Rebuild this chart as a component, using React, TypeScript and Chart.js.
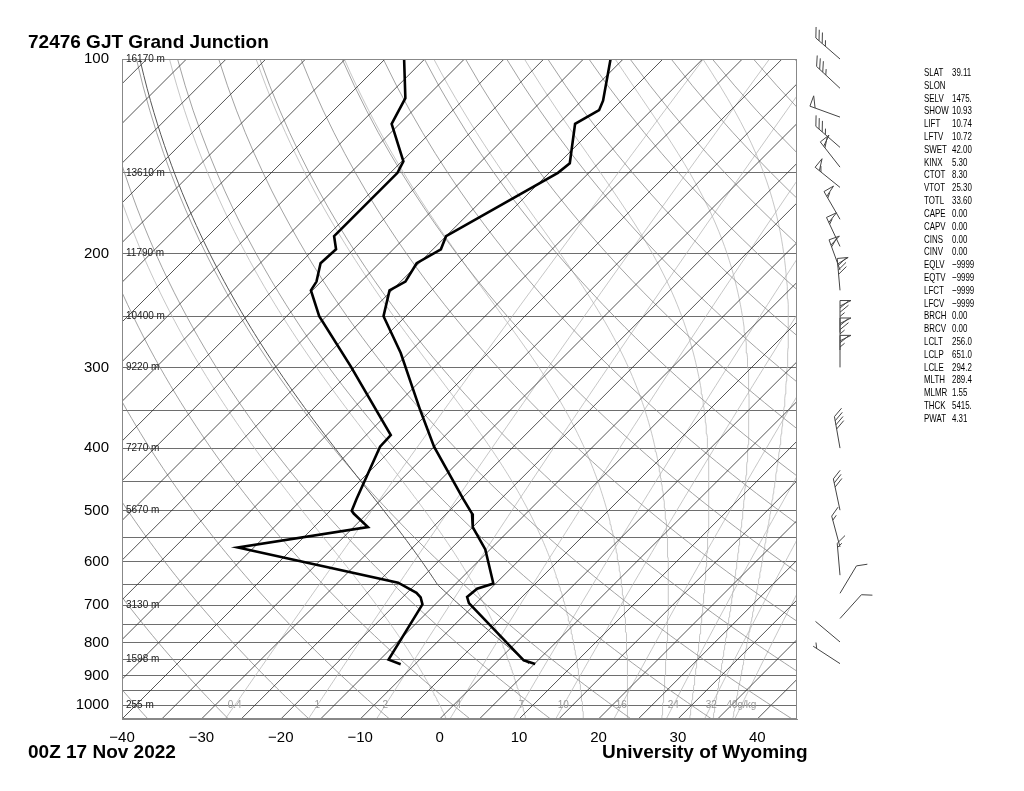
import React, { useEffect, useRef } from "react";
import { Chart, registerables } from "chart.js";

Chart.register(...registerables);

// ---------- diagram frame ----------
const P_BOTTOM = 1050;
const P_TOP = 100;
const T_LEFT = -40;
const T_RIGHT = 45;
const SKEW = 81.4; // degC per decade of pressure -> 45 degree isotherms

// ---------- sounding (pressure hPa, temperature degC) ----------
const tempPres = [100, 116, 120, 126, 145, 150, 188, 197, 207, 221, 228, 250, 285, 349, 398, 479, 505, 530, 574, 648, 660, 680, 695, 852, 863];
const tempC = [-61.6, -57.3, -56.6, -57.9, -53.6, -53.9, -60.0, -59.0, -60.3, -59.4, -60.3, -57.8, -51.0, -41.4, -35.0, -24.8, -21.8, -20.0, -15.6, -10.3, -11.7, -11.9, -10.9, 3.2, 5.1];
const dewPres = [100, 115, 126, 144, 150, 188, 197, 207, 221, 228, 250, 299, 382, 398, 479, 500, 505, 530, 570, 646, 670, 681, 698, 850, 864];
const dewC = [-87.6, -82.5, -81.0, -74.8, -74.1, -74.1, -72.2, -72.4, -70.6, -70.2, -65.9, -55.6, -41.9, -41.8, -38.2, -37.3, -36.7, -33.2, -47.0, -22.4, -18.8, -17.7, -16.6, -13.9, -11.8];

// ---------- winds (pressure hPa, direction deg, speed kt) ----------
const windPres = [100, 111, 123, 137, 147, 158, 177, 195, 212, 228, 265, 282, 300, 400, 499, 569, 629, 671, 734, 798, 862];
const windDir = [311, 313, 290, 311, 322, 309, 330, 335, 340, 355, 0, 0, 0, 350, 348, 345, 355, 31, 42, 310, 303];
const windKt = [35, 35, 50, 35, 60, 55, 55, 55, 60, 80, 75, 75, 65, 40, 30, 15, 15, 10, 10, 2, 5];

// ---------- axes ----------
const isobars = [100, 150, 200, 250, 300, 350, 400, 450, 500, 550, 600, 650, 700, 750, 800, 850, 900, 950, 1000, 1050];
const pressureLabels = [100, 200, 300, 400, 500, 600, 700, 800, 900, 1000];
const tempTicks = [-40, -30, -20, -10, 0, 10, 20, 30, 40];
const heightPres = [100, 150, 200, 250, 300, 400, 500, 700, 850, 1000];
const heightText = ["16170 m", "13610 m", "11790 m", "10400 m", "9220 m", "7270 m", "5670 m", "3130 m", "1598 m", "255 m"];

// ---------- background lines ----------
const ISOTHERM_FIRST = -125;
const ISOTHERM_LAST = 45;
const ISOTHERM_STEP = 5;
const dryThetaC = [-40, -30, -20, -10, 0, 10, 20, 30, 40, 50, 60, 70, 80, 90, 100, 110, 120, 130, 140, 150, 160, 170, 180];
const moistThetaE = [280, 300, 320, 340, 360, 380, 400, 420];
const mixRatios = [0.4, 1, 2, 4, 7, 10, 16, 24, 32, 40];
const mixLabels = ["0.4", "1", "2", "4", "7", "10", "16", "24", "32", "40g/kg"];

// ---------- station indices ----------
const statNames = ["SLAT", "SLON", "SELV", "SHOW", "LIFT", "LFTV", "SWET", "KINX", "CTOT", "VTOT", "TOTL", "CAPE", "CAPV", "CINS", "CINV", "EQLV", "EQTV", "LFCT", "LFCV", "BRCH", "BRCV", "LCLT", "LCLP", "LCLE", "MLTH", "MLMR", "THCK", "PWAT"];
const statValues = ["39.11", "", "1475.", "10.93", "10.74", "10.72", "42.00", "5.30", "8.30", "25.30", "33.60", "0.00", "0.00", "0.00", "0.00", "\u22129999", "\u22129999", "\u22129999", "\u22129999", "0.00", "0.00", "256.0", "651.0", "294.2", "289.4", "1.55", "5415.", "4.31"];
const SURFACE_PRES = 863;
const LCL_PRES = 651.0;
const LCL_TEMP_K = 256.0;

const TITLE = "72476 GJT Grand Junction";
const DATE_TEXT = "00Z 17 Nov 2022";
const SOURCE_TEXT = "University of Wyoming";

// ---------- thermodynamics helpers ----------
const RD = 287.04;
const CP = 1005.7;
const LV = 2.501e6;
const KAPPA = 0.2857;

const skewX = (tC: number, p: number) => tC + SKEW * Math.log10(P_BOTTOM / p);
const satVap = (tC: number) => 6.112 * Math.exp((17.67 * tC) / (tC + 243.5));
const satMix = (tK: number, p: number) => {
  const es = satVap(tK - 273.15);
  return (0.622 * es) / (p - es);
};
const dTdp = (T: number, p: number) => {
  const rs = satMix(T, p);
  return (RD * T + LV * rs) / (CP + (LV * LV * rs * 0.622) / (RD * T * T)) / p;
};
const thetaE = (tK: number, p: number) => tK * Math.pow(1000 / p, KAPPA) * Math.exp((LV * satMix(tK, p)) / (CP * tK));
function tempForThetaE(te: number, p: number) {
  let lo = 200, hi = 330;
  for (let i = 0; i < 60; i++) {
    const mid = (lo + hi) / 2;
    if (thetaE(mid, p) > te) hi = mid;
    else lo = mid;
  }
  return (lo + hi) / 2;
}
function moistPath(tK: number, p0: number, p1: number): { p: number; t: number }[] {
  const out = [{ p: p0, t: tK }];
  let T = tK;
  let p = p0;
  const dir = p1 < p0 ? -1 : 1;
  while (dir * (p1 - p) > 1e-6) {
    const dp = dir * Math.min(5, Math.abs(p1 - p));
    const k1 = dTdp(T, p);
    const k2 = dTdp(T + (k1 * dp) / 2, p + dp / 2);
    T += k2 * dp;
    p += dp;
    out.push({ p, t: T });
  }
  return out;
}
const curvePres: number[] = [];
for (let p = P_BOTTOM; p >= P_TOP; p -= 10) curvePres.push(p);

function lineDs(data: { x: number; y: number }[], color: string, width: number) {
  return {
    data,
    showLine: true,
    borderColor: color,
    borderWidth: width,
    pointRadius: 0,
    pointHoverRadius: 0,
    tension: 0,
    clip: 0,
    fill: false,
  };
}

function buildDatasets() {
  const ds: any[] = [];
  // sounding profiles on top
  ds.push(lineDs(tempPres.map((p, i) => ({ x: skewX(tempC[i], p), y: p })), "#000", 2.6));
  ds.push(lineDs(dewPres.map((p, i) => ({ x: skewX(dewC[i], p), y: p })), "#000", 2.6));
  // parcel path: dry to LCL, then saturated
  const theta = LCL_TEMP_K * Math.pow(1000 / LCL_PRES, KAPPA);
  const parcel: { x: number; y: number }[] = [];
  for (let p = SURFACE_PRES; p > LCL_PRES; p -= 5) parcel.push({ x: skewX(theta * Math.pow(p / 1000, KAPPA) - 273.15, p), y: p });
  moistPath(LCL_TEMP_K, LCL_PRES, P_TOP).forEach((q) => parcel.push({ x: skewX(q.t - 273.15, q.p), y: q.p }));
  ds.push(lineDs(parcel, "#555", 1));
  // isotherms
  for (let t = ISOTHERM_FIRST; t <= ISOTHERM_LAST; t += ISOTHERM_STEP) {
    ds.push(lineDs([{ x: skewX(t, P_BOTTOM), y: P_BOTTOM }, { x: skewX(t, P_TOP), y: P_TOP }], "#2a2a2a", 0.8));
  }
  // dry adiabats
  dryThetaC.forEach((th) => {
    const tk = th + 273.15;
    ds.push(lineDs(curvePres.map((p) => ({ x: skewX(tk * Math.pow(p / 1000, KAPPA) - 273.15, p), y: p })), "#8a8a8a", 0.8));
  });
  // moist (saturated) adiabats, labelled by equivalent potential temperature
  moistThetaE.forEach((te) => {
    const t0 = tempForThetaE(te, 1000);
    const up = moistPath(t0, 1000, P_TOP);
    const down = moistPath(t0, 1000, P_BOTTOM).reverse();
    const pts = down.concat(up.slice(1)).map((q) => ({ x: skewX(q.t - 273.15, q.p), y: q.p }));
    ds.push(lineDs(pts, "#b8b8b8", 0.8));
  });
  // mixing-ratio lines
  mixRatios.forEach((r) => {
    ds.push(lineDs(curvePres.map((p) => {
      const e = (r * p) / (622 + r);
      const l = Math.log(e / 6.112);
      const td = (243.5 * l) / (17.67 - l);
      return { x: skewX(td, p), y: p };
    }), "#b8b8b8", 0.8));
  });
  return ds;
}

const FONT = '"Liberation Sans", Arial, Helvetica, sans-serif';

function drawBarb(ctx: CanvasRenderingContext2D, x: number, y: number, dirDeg: number, spd: number) {
  const L = 32, F = 11, H = 6, GAP = 4.2, PW = 5.5;
  const a = (dirDeg * Math.PI) / 180;
  const ux = Math.sin(a), uy = -Math.cos(a);
  const px = -uy, py = ux;
  const fx = px * 0.77 + ux * 0.64, fy = py * 0.77 + uy * 0.64;
  const tx = x + ux * L, ty = y + uy * L;
  ctx.beginPath();
  ctx.moveTo(x, y);
  ctx.lineTo(tx, ty);
  ctx.stroke();
  let s = Math.round(spd / 5) * 5;
  const nP = Math.floor(s / 50);
  s -= nP * 50;
  const nF = Math.floor(s / 10);
  s -= nF * 10;
  const nH = s >= 5 ? 1 : 0;
  let pos = 0;
  for (let i = 0; i < nP; i++) {
    const ax = tx - ux * pos, ay = ty - uy * pos;
    const bx = tx - ux * (pos + PW), by = ty - uy * (pos + PW);
    ctx.beginPath();
    ctx.moveTo(ax, ay);
    ctx.lineTo(ax + px * F, ay + py * F);
    ctx.lineTo(bx, by);
    ctx.stroke();
    pos += PW + 2;
  }
  for (let i = 0; i < nF; i++) {
    const ax = tx - ux * pos, ay = ty - uy * pos;
    ctx.beginPath();
    ctx.moveTo(ax, ay);
    ctx.lineTo(ax + fx * F, ay + fy * F);
    ctx.stroke();
    pos += GAP;
  }
  if (nH) {
    if (nP === 0 && nF === 0) pos = GAP;
    const ax = tx - ux * pos, ay = ty - uy * pos;
    ctx.beginPath();
    ctx.moveTo(ax, ay);
    ctx.lineTo(ax + fx * H, ay + fy * H);
    ctx.stroke();
  }
}

const overlayPlugin = {
  id: "skewtOverlay",
  afterDraw(chart: any) {
    const { ctx, chartArea: a, scales } = chart;
    const ys = scales.y, xs = scales.x;
    ctx.save();
    // frame
    ctx.strokeStyle = "#888";
    ctx.lineWidth = 1;
    ctx.strokeRect(a.left + 0.5, a.top + 0.5, a.right - a.left - 1, a.bottom - a.top - 1);
    // height labels
    ctx.fillStyle = "#222";
    ctx.font = `10px ${FONT}`;
    ctx.textBaseline = "middle";
    ctx.textAlign = "left";
    heightPres.forEach((p, i) => ctx.fillText(heightText[i], a.left + 4, ys.getPixelForValue(p)));
    // mixing ratio labels at 1000 hPa
    ctx.fillStyle = "#9a9a9a";
    ctx.textAlign = "center";
    mixRatios.forEach((r, i) => {
      const e = (r * 1000) / (622 + r);
      const l = Math.log(e / 6.112);
      const td = (243.5 * l) / (17.67 - l);
      ctx.fillText(mixLabels[i], xs.getPixelForValue(skewX(td, 1000)), ys.getPixelForValue(1000));
    });
    // titles
    ctx.fillStyle = "#000";
    ctx.textAlign = "left";
    ctx.textBaseline = "alphabetic";
    ctx.font = `bold 19px ${FONT}`;
    ctx.fillText(TITLE, 28, 48);
    ctx.fillText(DATE_TEXT, 28, 758);
    ctx.fillText(SOURCE_TEXT, 602, 758);
    // station table
    ctx.font = `11px ${FONT}`;
    statNames.forEach((n, i) => {
      const yy = 76 + i * 12.81;
      ctx.save();
      ctx.translate(924, yy);
      ctx.scale(0.72, 1);
      ctx.fillText(n, 0, 0);
      ctx.restore();
      ctx.save();
      ctx.translate(952, yy);
      ctx.scale(0.72, 1);
      ctx.fillText(statValues[i], 0, 0);
      ctx.restore();
    });
    // wind barbs
    ctx.strokeStyle = "#444";
    ctx.lineWidth = 1;
    windPres.forEach((p, i) => drawBarb(ctx, a.right + 43, ys.getPixelForValue(p), windDir[i], windKt[i]));
    ctx.restore();
  },
};

export default function App() {
  const ref = useRef<HTMLCanvasElement | null>(null);
  useEffect(() => {
    if (!ref.current) return;
    const chart = new Chart(ref.current, {
      type: "scatter",
      data: { datasets: buildDatasets() },
      options: {
        responsive: false,
        animation: false,
        devicePixelRatio: 1,
        events: [],
        layout: { padding: { left: 0, right: 227, top: 59, bottom: 42 } },
        plugins: { legend: { display: false }, tooltip: { enabled: false }, title: { display: false } },
        scales: {
          x: {
            type: "linear",
            min: T_LEFT,
            max: T_RIGHT,
            afterBuildTicks: (s: any) => {
              s.ticks = tempTicks.map((v) => ({ value: v }));
            },
            afterFit: (s: any) => {
              s.height = 30;
            },
            grid: { display: false, drawTicks: false },
            border: { display: true, color: "#888" },
            ticks: {
              autoSkip: false,
              maxRotation: 0,
              padding: 10,
              color: "#000",
              font: { family: FONT, size: 15 },
              callback: (v: any) => (Number(v) < 0 ? "\u2212" + Math.abs(Number(v)) : String(v)),
            },
          },
          y: {
            type: "logarithmic",
            reverse: true,
            min: P_TOP,
            max: P_BOTTOM,
            afterBuildTicks: (s: any) => {
              s.ticks = isobars.map((v) => ({ value: v }));
            },
            afterFit: (s: any) => {
              s.width = 122;
            },
            grid: { color: "#6e6e6e", lineWidth: 1, drawTicks: false },
            border: { display: true, color: "#888" },
            ticks: {
              autoSkip: false,
              padding: 13,
              color: "#000",
              font: { family: FONT, size: 15 },
              callback: (v: any) => (pressureLabels.includes(Number(v)) ? String(v) : ""),
            },
          },
        },
      },
      plugins: [overlayPlugin],
    } as any);
    return () => chart.destroy();
  }, []);
  return (
    <div style={{ position: "absolute", left: 0, top: 0, width: 1024, height: 791, background: "#fff" }}>
      <canvas ref={ref} width={1024} height={791} style={{ display: "block" }} />
    </div>
  );
}
